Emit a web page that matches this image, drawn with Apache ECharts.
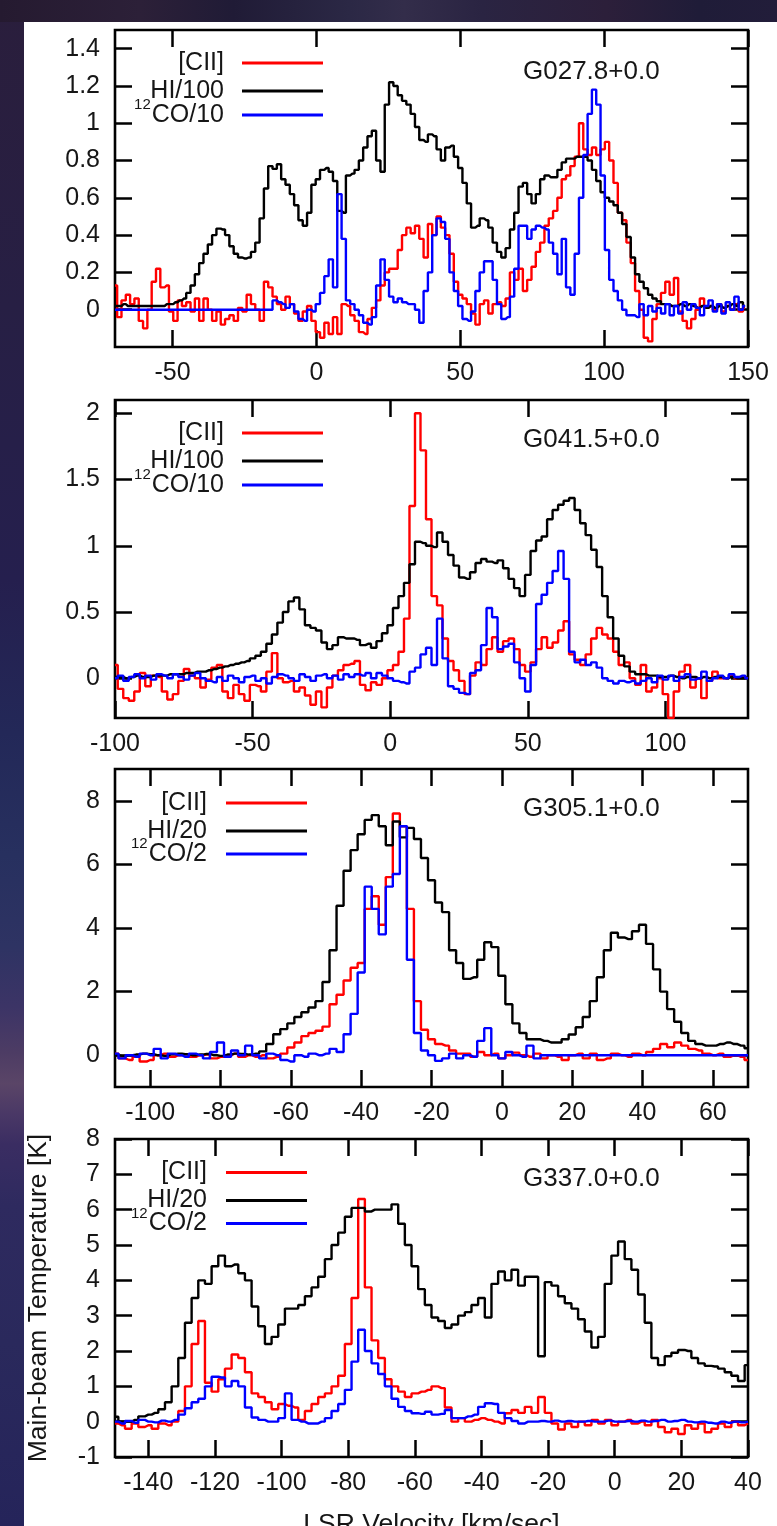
<!DOCTYPE html>
<html><head><meta charset="utf-8">
<script src="https://cdn.jsdelivr.net/npm/echarts@6.0.0/dist/echarts.min.js"></script>
<style>
html,body{margin:0;padding:0;width:777px;height:1526px;overflow:hidden;}
body{position:relative;background:linear-gradient(180deg,#2a1e3c 0%,#271f44 20%,#251f4e 38%,#232858 48%,#27305f 56%,#2e3363 62%,#3c3466 66%,#4d3c64 69%,#5a4567 71%,#4a3866 73%,#3a2d62 75%,#2e2a5f 79%,#2a295c 88%,#25245a 100%);}
#top{position:absolute;left:0;top:0;width:777px;height:22px;background:linear-gradient(90deg,#251a30 0%,#2c2038 18%,#201b36 30%,#2b2845 45%,#332d4a 52%,#2a2442 62%,#2c1f3a 78%,#1f1c38 90%,#221d3a 100%);}
#paper{position:absolute;left:24px;top:22px;width:753px;height:1504px;background:#fff;}
#chart{position:absolute;left:0;top:0;width:777px;height:1526px;}
</style></head><body>
<div id="top"></div><div id="paper"></div><div id="chart"></div>
<script>
// ---------- G027.8+0.0 : channels from -70 km/s, 1.5 km/s wide ----------
const G027_V0 = -70, G027_DV = 1.5;
const g027_cii = [
0.13,-0.04,0.05,0.08,0.03,0.06,-0.06,-0.10,0.00,0.15,
0.22,0.12,0.13,-0.01,-0.06,0.05,0.02,0.04,-0.01,0.06,
-0.06,0.06,0.00,-0.06,-0.01,-0.08,-0.05,-0.03,-0.06,0.01,
-0.01,0.08,0.03,0.00,-0.06,0.15,0.12,0.07,0.03,0.00,
0.07,0.03,-0.02,-0.06,-0.01,0.02,-0.06,-0.12,-0.15,-0.07,
-0.13,-0.04,-0.13,0.03,0.02,-0.03,-0.06,-0.12,-0.13,-0.05,
0.01,0.05,0.13,0.20,0.22,0.22,0.32,0.40,0.44,0.41,
0.45,0.38,0.28,0.46,0.40,0.50,0.44,0.40,0.30,0.15,
0.08,0.06,0.03,-0.02,-0.08,0.03,0.05,-0.02,0.03,0.04,
0.02,0.06,0.20,0.16,0.22,0.10,0.16,0.23,0.31,0.36,
0.45,0.49,0.53,0.60,0.70,0.72,0.77,0.82,1.00,0.86,
0.83,0.87,0.83,0.86,0.90,0.80,0.68,0.52,0.48,0.36,
0.25,0.10,0.00,-0.15,-0.17,-0.05,0.03,0.09,0.15,0.08,
0.17,-0.01,-0.06,-0.10,-0.05,0.00,0.06,0.01,0.02,0.00,
0.03,-0.01,0.02,0.00,0.03,-0.01,0.01];
const g027_hi = [
0.02,0.02,0.03,0.02,0.02,0.02,0.02,0.02,0.02,0.02,
0.02,0.02,0.03,0.03,0.04,0.05,0.06,0.09,0.13,0.19,
0.25,0.30,0.35,0.40,0.435,0.43,0.40,0.34,0.30,0.28,
0.275,0.28,0.31,0.36,0.49,0.65,0.77,0.755,0.78,0.70,
0.67,0.62,0.56,0.48,0.45,0.52,0.67,0.70,0.75,0.76,
0.74,0.69,0.53,0.52,0.72,0.73,0.75,0.80,0.87,0.93,
0.96,0.80,0.74,1.10,1.22,1.20,1.15,1.12,1.10,1.05,
0.98,0.91,0.90,0.94,0.93,0.86,0.80,0.87,0.88,0.82,
0.76,0.68,0.57,0.44,0.45,0.49,0.48,0.44,0.36,0.31,
0.28,0.33,0.43,0.52,0.66,0.68,0.62,0.57,0.62,0.70,
0.72,0.71,0.71,0.75,0.79,0.81,0.81,0.82,0.82,0.82,
0.80,0.75,0.69,0.63,0.60,0.58,0.56,0.52,0.46,0.39,
0.28,0.19,0.15,0.115,0.08,0.06,0.045,0.03,0.03,0.02,
0.02,0.03,0.02,0.03,0.02,0.01,0.02,0.01,0.02,0.01,
0.02,0.01,0.02,0.03,0.02,0.04,0.02];
const g027_co = [
0,0,0,0,0,0,0,0,0,0,
0,0,0,0,0,0,0,0,0,0,
0,0,0,0,0,0,0,0,0,0,
0,0,0,0,0,0,0,0.05,0.04,0.03,
0.01,0.03,-0.01,-0.05,-0.06,0.00,-0.01,0.03,0.09,0.18,
0.27,0.12,0.62,0.38,0.05,0.03,0.00,-0.03,-0.07,-0.08,
-0.04,0.13,0.27,0.16,0.07,0.04,0.06,0.04,0.03,0.03,
0.00,-0.07,0.10,0.20,0.40,0.49,0.47,0.38,0.20,0.10,
0.02,-0.05,-0.06,-0.01,0.10,0.20,0.26,0.26,0.16,0.03,
-0.05,-0.04,0.07,0.22,0.45,0.45,0.38,0.43,0.45,0.44,
0.43,0.36,0.30,0.19,0.38,0.12,0.08,0.30,0.60,0.83,
1.05,1.18,1.10,0.72,0.32,0.16,0.10,0.05,0.00,-0.03,
-0.03,-0.04,0.03,-0.03,0.02,-0.01,0.01,-0.02,0.03,-0.03,
0.02,-0.02,0.04,0.00,0.03,0.01,-0.03,0.02,0.05,-0.01,
0.03,-0.02,0.04,0.00,0.07,0.00,0.02];

// ---------- G041.5+0.0 : channels from -100 km/s, 2 km/s wide ----------
const G041_V0 = -100, G041_DV = 2;
const g041_cii = [
0.10,-0.08,-0.15,-0.17,-0.10,0.04,-0.06,0.02,0.01,-0.10,
-0.16,-0.12,-0.02,0.07,0.02,0.00,-0.07,-0.01,0.08,0.10,
-0.10,-0.15,-0.05,-0.12,-0.17,-0.05,-0.06,-0.10,0.05,0.19,
0.00,-0.03,-0.02,-0.10,-0.07,-0.13,-0.20,-0.10,-0.22,-0.07,
0.02,0.06,0.10,0.11,0.13,-0.05,-0.09,-0.03,-0.05,0.00,
0.06,0.10,0.20,0.45,1.30,2.00,1.72,1.20,0.62,0.55,
0.30,0.13,0.06,-0.02,-0.12,0.02,0.12,0.10,0.22,0.31,
0.20,0.28,0.30,0.22,0.10,0.05,0.12,0.22,0.31,0.23,
0.27,0.36,0.43,0.18,0.14,0.10,0.18,0.30,0.38,0.33,
0.30,0.20,0.10,0.12,0.00,-0.05,0.10,-0.10,-0.07,0.00,
-0.12,-0.30,-0.10,0.05,0.10,-0.07,0.00,-0.15,-0.02,0.05,
0.00,0.00,0.02,0.00,0.01,0.00];
const g041_hi = [
0.01,0.01,0.00,0.01,0.02,0.01,0.01,0.02,0.02,0.02,
0.03,0.03,0.03,0.04,0.04,0.05,0.05,0.06,0.07,0.08,
0.09,0.10,0.11,0.12,0.13,0.15,0.17,0.20,0.26,0.33,
0.42,0.50,0.58,0.61,0.52,0.40,0.38,0.36,0.27,0.22,
0.25,0.31,0.30,0.30,0.29,0.25,0.26,0.23,0.28,0.34,
0.40,0.53,0.62,0.72,0.86,1.03,1.02,1.00,0.99,1.10,
1.03,0.93,0.85,0.76,0.75,0.80,0.87,0.90,0.88,0.87,
0.89,0.83,0.75,0.68,0.62,0.78,0.96,1.04,1.07,1.20,
1.27,1.31,1.34,1.36,1.27,1.17,1.08,0.97,0.84,0.62,
0.46,0.30,0.17,0.09,0.05,0.03,0.03,0.02,0.02,0.01,
0.01,0.02,0.01,0.00,0.01,0.01,0.00,0.01,0.00,0.01,
0.01,0.00,0.01,0.00,0.00,0.01];
const g041_co = [
0.00,0.02,-0.02,0.01,0.03,0.00,0.02,-0.01,0.03,0.02,
0.00,0.03,0.01,-0.01,0.02,0.04,0.00,-0.02,-0.03,0.01,
-0.02,0.02,0.00,-0.03,0.01,0.02,-0.02,0.00,-0.04,0.01,
0.03,0.02,0.00,-0.02,0.03,0.01,-0.02,0.02,0.03,0.00,
0.02,-0.01,0.03,0.01,0.03,0.02,0.04,0.00,0.04,0.02,
0.00,-0.02,-0.03,-0.04,0.05,0.08,0.18,0.23,0.10,0.45,
0.15,-0.06,-0.08,-0.11,-0.12,0.04,0.06,0.25,0.53,0.46,
0.22,0.24,0.26,0.12,0.00,-0.10,0.10,0.56,0.63,0.72,
0.81,0.96,0.75,0.20,0.12,0.14,0.10,0.12,0.08,0.00,
-0.02,-0.04,-0.02,-0.03,-0.02,-0.04,-0.02,0.00,-0.03,0.02,
-0.01,0.02,-0.02,0.01,0.03,-0.01,0.00,0.05,-0.02,0.00,
0.02,0.00,0.03,0.01,0.02,0.00];

// ---------- G305.1+0.0 : channels from -110 km/s, 2 km/s wide ----------
const G305_V0 = -110, G305_DV = 2;
const g305_cii = [
0.05,-0.10,-0.15,-0.05,-0.20,-0.15,0.00,0.05,-0.05,0.00,
0.03,-0.05,0.00,0.02,-0.10,-0.05,0.00,0.05,-0.05,0.00,
-0.05,0.00,-0.10,-0.05,0.05,0.24,0.40,0.60,0.70,0.77,
0.90,1.60,1.90,2.35,2.75,2.90,4.60,5.00,4.10,5.60,
7.60,7.20,4.60,1.70,0.80,0.50,0.35,0.30,0.15,0.05,
0.05,-0.05,0.10,0.00,0.05,-0.10,0.00,0.08,0.00,-0.05,
0.05,-0.10,0.00,-0.05,-0.15,0.00,0.05,-0.10,0.05,-0.15,
-0.10,0.05,0.00,-0.05,0.05,0.00,0.10,0.20,0.35,0.25,
0.40,0.30,0.20,0.15,0.05,0.00,0.05,-0.05,0.00,-0.05,
-0.15];
const g305_hi = [
0.00,-0.02,0.00,0.02,0.05,0.03,0.00,-0.02,0.03,0.05,
0.03,0.00,0.02,0.04,0.00,-0.02,0.02,0.05,0.04,0.02,
0.05,0.12,0.35,0.66,0.82,1.00,1.20,1.35,1.50,1.70,
2.30,3.30,4.70,5.80,6.45,6.95,7.40,7.55,7.20,6.60,
7.35,6.85,7.15,6.80,6.20,5.50,4.80,4.50,3.30,2.90,
2.40,2.45,3.00,3.55,3.40,2.50,1.60,1.00,0.70,0.50,
0.50,0.45,0.40,0.40,0.50,0.65,0.88,1.20,1.70,2.45,
3.30,3.85,3.70,3.65,3.90,4.10,3.50,2.70,2.00,1.45,
1.05,0.70,0.45,0.35,0.30,0.30,0.35,0.40,0.35,0.30,
0.22];
const g305_co = [
0.05,-0.10,0.00,-0.05,0.05,0.00,0.20,-0.10,0.05,0.00,
-0.05,0.05,0.00,-0.10,0.10,0.40,-0.05,0.15,0.00,0.30,
0.00,-0.10,0.05,0.00,-0.15,-0.20,0.00,-0.05,0.05,0.00,
0.05,0.20,0.10,0.66,1.30,2.60,5.30,4.60,3.80,5.30,
5.70,7.20,3.00,0.70,0.15,0.00,-0.18,-0.10,0.05,-0.10,
0.00,-0.05,0.45,0.85,0.00,-0.10,0.10,0.00,-0.05,0.30,
-0.10,0.00,0.00,0.00,0.00,0.00,0.00,0.00,0.00,0.00,
0,0,0,0,0,0,0,0,0,0,
0,0,0,0,0,0,0,0,0,0,
0];

// ---------- G337.0+0.0 : channels from -150 km/s, 2 km/s wide ----------
const G337_V0 = -150, G337_DV = 2;
const g337_cii = [
-0.05,-0.10,-0.20,-0.05,-0.15,-0.10,-0.20,-0.05,-0.10,0.00,
0.30,1.00,2.20,2.85,1.10,0.85,1.20,1.50,1.90,1.80,
1.40,0.80,0.70,0.55,0.35,0.50,0.45,0.40,0.05,0.30,
0.50,0.70,0.80,1.00,1.30,2.20,3.50,6.30,3.80,2.30,
1.80,1.20,1.00,0.85,0.70,0.80,0.85,0.90,1.00,0.95,
0.40,0.00,0.10,0.00,0.05,0.10,0.05,0.00,-0.05,0.24,
0.33,0.25,0.42,0.25,0.70,0.25,-0.05,-0.22,-0.05,-0.15,
0.00,-0.10,0.05,-0.05,0.05,-0.10,0.00,0.05,-0.05,0.00,
-0.10,0.05,-0.15,-0.30,-0.20,-0.35,-0.10,-0.20,-0.05,-0.30,
-0.20,-0.05,-0.15,0.00,-0.10,-0.05];
const g337_hi = [
0.14,0.00,0.00,0.05,0.15,0.20,0.25,0.35,0.55,1.00,
1.80,2.80,3.50,4.00,3.90,4.40,4.70,4.40,4.45,4.20,
4.00,3.26,2.70,2.20,2.40,2.75,3.20,3.20,3.30,3.55,
3.80,4.10,4.60,5.00,5.35,5.80,6.05,6.05,5.95,6.00,
6.00,6.00,6.15,5.60,5.00,4.40,3.75,3.30,2.95,2.85,
2.65,2.75,3.00,3.10,3.30,3.50,2.95,3.90,4.25,4.00,
4.30,3.85,4.10,4.10,1.85,3.95,3.85,3.55,3.35,3.20,
2.90,2.55,2.10,2.40,3.90,4.70,5.10,4.60,4.30,3.60,
2.80,1.80,1.60,1.85,1.95,2.03,2.00,1.80,1.65,1.58,
1.56,1.50,1.40,1.30,1.15,1.60];
const g337_co = [
0.00,-0.05,0.02,-0.03,0.05,0.00,-0.02,0.03,0.00,0.05,
0.20,0.38,0.55,0.65,1.00,1.27,1.25,1.00,1.15,1.00,
0.40,0.12,0.05,0.00,0.00,0.10,0.80,0.05,0.00,-0.05,
-0.05,0.00,0.10,0.30,0.50,0.90,1.70,2.60,2.00,1.65,
1.35,1.00,0.65,0.42,0.30,0.24,0.22,0.28,0.20,0.22,
0.33,0.10,0.10,0.15,0.20,0.42,0.52,0.50,0.25,0.10,
0.02,-0.05,0.00,0.00,0.02,0.00,0.03,0.00,0.02,0.00,
0.00,0.02,0.00,0.00,0.03,0.00,0.00,0.02,0.00,0.03,
0.00,0.02,0.05,0.00,0.02,0.05,0.00,-0.02,0.00,-0.03,
-0.05,0.00,-0.03,0.00,-0.02,0.00];

// ---------- tick labels ----------
const xTicks1 = [-50, 0, 50, 100, 150];
const yTicks1 = [0, 0.2, 0.4, 0.6, 0.8, 1, 1.2, 1.4];
const xTicks2 = [-100, -50, 0, 50, 100];
const yTicks2 = [0, 0.5, 1, 1.5, 2];
const xTicks3 = [-100, -80, -60, -40, -20, 0, 20, 40, 60];
const yTicks3 = [0, 2, 4, 6, 8];
const xTicks4 = [-140, -120, -100, -80, -60, -40, -20, 0, 20, 40];
const yTicks4 = [-1, 0, 1, 2, 3, 4, 5, 6, 7, 8];

const namesA = ['[CII]', 'HI/100', '12CO/10'];
const namesB = ['[CII]', 'HI/20', '12CO/2'];
const sources = ['G027.8+0.0', 'G041.5+0.0', 'G305.1+0.0', 'G337.0+0.0'];

const FONT = '"Liberation Sans", Arial, Helvetica, sans-serif';
const INK = '#161616';
const COLORS = ['#ff0000', '#000000', '#0000ff'];
const TICK_FS = 25, NAME_FS = 26.5;

const panels = [
  {v0: G027_V0, dv: G027_DV, s: [g027_cii, g027_hi, g027_co], names: namesA, x: [-70, 150], y: [-0.2, 1.5], xt: xTicks1, yt: yTicks1, top: 30, h: 317, legendRight: 454, pad: 13, titleTop: 59, legendTop: 50.5, coTop: 97.5},
  {v0: G041_V0, dv: G041_DV, s: [g041_cii, g041_hi, g041_co], names: namesA, x: [-100, 130], y: [-0.3, 2.1], xt: xTicks2, yt: yTicks2, top: 400, h: 318, legendRight: 454, pad: 13, titleTop: 427, legendTop: 420.5, coTop: 467.5},
  {v0: G305_V0, dv: G305_DV, s: [g305_cii, g305_hi, g305_co], names: namesB, x: [-110, 70], y: [-1, 9], xt: xTicks3, yt: yTicks3, top: 769, h: 318, legendRight: 470, pad: 14, titleTop: 796, legendTop: 790.5, coTop: 836.5},
  {v0: G337_V0, dv: G337_DV, s: [g337_cii, g337_hi, g337_co], names: namesB, x: [-150, 40], y: [-1, 8], xt: xTicks4, yt: yTicks4, top: 1139, h: 318, legendRight: 470, pad: 14, titleTop: 1166, legendTop: 1160, coTop: 1206}
];

function pairs(v0, dv, arr) {
  return arr.map(function (t, i) { return [Math.round((v0 + i * dv) * 1000) / 1000, t]; });
}

const tickStyle = {color: '#000', width: 2.5};
const grids = [], xAxes = [], yAxes = [], series = [], legends = [], titles = [];

function legendCfg(p, data, top) {
  return {
    data: data, orient: 'vertical', align: 'right', right: p.legendRight, top: top,
    padding: 0, itemGap: 3, itemWidth: 81, itemHeight: 3, icon: 'rect', selectedMode: false,
    formatter: function (name) {
      if (name.indexOf('12') === 0) return '{s|12}{m|' + name.slice(2) + '}';
      return '{m|' + name + '}';
    },
    textStyle: {
      color: INK, fontFamily: FONT, fontSize: TICK_FS, lineHeight: 24,
      rich: {
        m: {fontSize: TICK_FS, lineHeight: 24, color: INK, fontFamily: FONT, padding: [0, p.pad, 0, 0]},
        s: {fontSize: 15, lineHeight: 24, color: INK, fontFamily: FONT, padding: [0, 1, 20, 0]}
      }
    }
  };
}

panels.forEach(function (p, i) {
  grids.push({left: 115, top: p.top, width: 633, height: p.h, show: true, borderColor: '#000', borderWidth: 2.6, backgroundColor: 'transparent', containLabel: false, outerBoundsMode: 'none'});
  const last = i === panels.length - 1;
  const base = {type: 'value', gridIndex: i, splitLine: {show: false}, axisLine: {show: false, onZero: false}};
  xAxes.push(Object.assign({}, base, {
    position: 'bottom', min: p.x[0], max: p.x[1],
    axisTick: {show: true, inside: true, length: 17, customValues: p.xt, lineStyle: tickStyle},
    axisLabel: {show: true, customValues: p.xt, margin: 14, fontSize: TICK_FS, color: INK, fontFamily: FONT},
    name: last ? 'LSR Velocity [km/sec]' : '', nameLocation: 'middle', nameGap: 54, nameMoveOverlap: false,
    nameTextStyle: {fontSize: NAME_FS, color: INK, fontFamily: FONT}
  }));
  xAxes.push(Object.assign({}, base, {
    position: 'top', min: p.x[0], max: p.x[1],
    axisTick: {show: true, inside: true, length: 17, customValues: p.xt, lineStyle: tickStyle},
    axisLabel: {show: false}
  }));
  yAxes.push(Object.assign({}, base, {
    position: 'left', min: p.y[0], max: p.y[1],
    axisTick: {show: true, inside: true, length: 17, customValues: p.yt, lineStyle: tickStyle},
    axisLabel: {show: true, customValues: p.yt, margin: 15, fontSize: TICK_FS, color: INK, fontFamily: FONT},
    name: last ? 'Main-beam Temperature [K]' : '', nameLocation: 'middle', nameRotate: 90, nameGap: 63, nameMoveOverlap: false,
    nameTextStyle: {fontSize: NAME_FS, color: INK, fontFamily: FONT}
  }));
  yAxes.push(Object.assign({}, base, {
    position: 'right', min: p.y[0], max: p.y[1],
    axisTick: {show: true, inside: true, length: 17, customValues: p.yt, lineStyle: tickStyle},
    axisLabel: {show: false}
  }));
  p.s.forEach(function (arr, k) {
    series.push({
      type: 'line', name: p.names[k], xAxisIndex: 2 * i, yAxisIndex: 2 * i,
      data: pairs(p.v0, p.dv, arr), step: 'middle', symbol: 'none', showSymbol: false,
      color: COLORS[k], itemStyle: {color: COLORS[k]}, lineStyle: {width: 2.4, color: COLORS[k]},
      clip: true, silent: true, animation: false, z: 2 + k
    });
  });
  legends.push(legendCfg(p, [p.names[0], p.names[1]], p.legendTop));
  legends.push(legendCfg(p, [p.names[2]], p.coTop));
  titles.push({text: sources[i], left: 523, top: p.titleTop, padding: 0,
    textStyle: {fontSize: 26, fontWeight: 'normal', color: INK, fontFamily: FONT}});
});

const chart = echarts.init(document.getElementById('chart'), null, {renderer: 'canvas'});
chart.setOption({
  animation: false,
  backgroundColor: 'transparent',
  title: titles,
  legend: legends,
  grid: grids,
  xAxis: xAxes,
  yAxis: yAxes,
  series: series
});
</script></body></html>
